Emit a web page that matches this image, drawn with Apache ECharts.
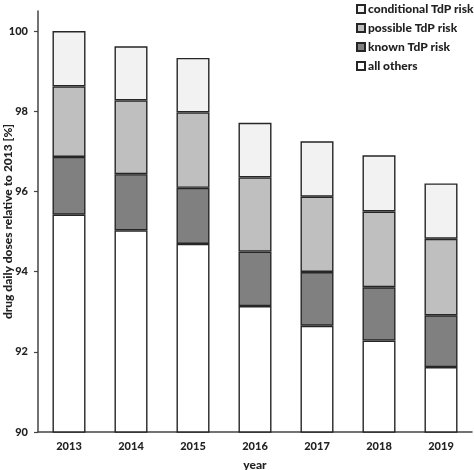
<!DOCTYPE html>
<html>
<head>
<meta charset="utf-8">
<script src="https://cdn.jsdelivr.net/npm/echarts@6/dist/echarts.min.js"></script>
<style>
  html, body { margin: 0; padding: 0; background: #fff; }
  #chart { width: 474px; height: 470px; }
</style>
</head>
<body>
<div id="chart"></div>
<script>
// Data
const years = ["2013", "2014", "2015", "2016", "2017", "2018", "2019"];
const allOthers = [95.42, 95.03, 94.69, 93.14, 92.65, 92.28, 91.62];
const knownRisk = [1.44, 1.40, 1.40, 1.36, 1.34, 1.33, 1.29];
const possibleRisk = [1.76, 1.84, 1.88, 1.85, 1.88, 1.89, 1.91];
const conditionalRisk = [1.38, 1.35, 1.36, 1.36, 1.38, 1.40, 1.38];
const yTicks = [90, 92, 94, 96, 98, 100];

const chart = echarts.init(document.getElementById("chart"));

const font = "Lato";
const ink = "#262626";
const textColor = "#222";

const barSeries = (name, data, color) => ({
  name,
  type: "bar",
  stack: "total",
  data,
  barWidth: 33,
  itemStyle: { color, borderColor: ink, borderWidth: 1.4 },
  emphasis: { disabled: true },
});

chart.setOption({
  backgroundColor: "#fff",
  animation: false,
  grid: { left: 38, right: 2, top: 11, bottom: 38, outerBoundsMode: "none", containLabel: false },
  legend: {
    orient: "vertical",
    left: 351,
    top: -2,
    icon: "rect",
    itemWidth: 8,
    itemHeight: 8,
    itemGap: 7,
    data: ["conditional TdP risk", "possible TdP risk", "known TdP risk", "all others"],
    textStyle: { fontFamily: font, fontWeight: 900, fontSize: 12, color: textColor, padding: [0, 0, 0, -2] },
  },
  xAxis: {
    type: "category",
    data: years,
    name: "year",
    nameLocation: "middle",
    nameGap: 27,
    nameMoveOverlap: false,
    nameTextStyle: { fontFamily: font, fontWeight: 900, fontSize: 12, color: textColor },
    axisLine: { lineStyle: { color: "#444", width: 1.5 } },
    axisTick: { show: false },
    axisLabel: { fontFamily: font, fontWeight: 900, fontSize: 11, color: textColor, margin: 9 },
  },
  yAxis: {
    type: "value",
    min: 90,
    max: 100.5,
    name: "drug daily doses relative to 2013 [%]",
    nameLocation: "middle",
    nameGap: 24,
    nameMoveOverlap: false,
    nameTextStyle: { fontFamily: font, fontWeight: 900, fontSize: 12, color: textColor },
    splitLine: { show: false },
    axisLine: { show: true, lineStyle: { color: "#444", width: 1.5 } },
    axisTick: { show: true, length: 4, customValues: yTicks, lineStyle: { color: "#444", width: 1.2 } },
    axisLabel: { customValues: yTicks, fontFamily: font, fontWeight: 900, fontSize: 11, color: textColor, margin: 10 },
  },
  series: [
    barSeries("all others", allOthers, "#ffffff"),
    barSeries("known TdP risk", knownRisk, "#808080"),
    barSeries("possible TdP risk", possibleRisk, "#bfbfbf"),
    barSeries("conditional TdP risk", conditionalRisk, "#f2f2f2"),
  ],
});
</script>
</body>
</html>
